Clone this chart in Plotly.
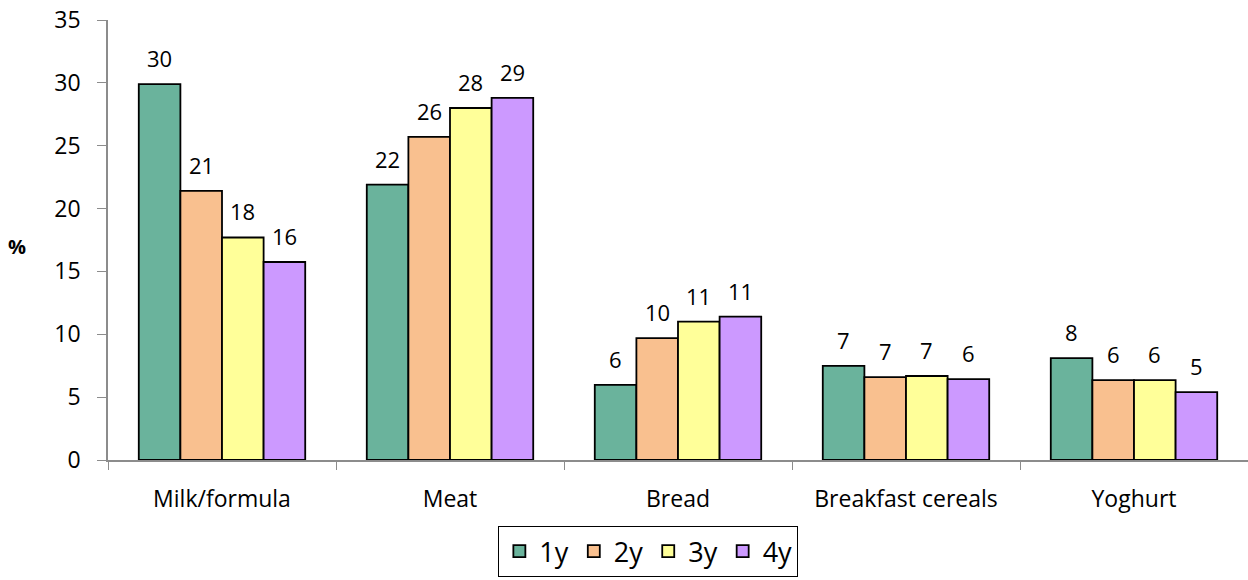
import plotly.graph_objects as go

categories = ["Milk/formula", "Meat", "Bread", "Breakfast cereals", "Yoghurt"]
series_names = ["1y", "2y", "3y", "4y"]
values_1y = [29.9, 21.9, 5.97, 7.48, 8.1]
values_2y = [21.4, 25.7, 9.7, 6.6, 6.36]
values_3y = [17.7, 28.0, 11.0, 6.68, 6.36]
values_4y = [15.75, 28.8, 11.4, 6.44, 5.4]
colors = ["#6AB39C", "#F9C08F", "#FFFF99", "#CC99FF"]

font_family = "'Open Sans', sans-serif"

W, H = 1248, 580
M_L, M_R, M_T, M_B = 108, 0, 20, 120
BARGAP = 0.27

all_series = [values_1y, values_2y, values_3y, values_4y]

fig = go.Figure()
for name, vals, col in zip(series_names, all_series, colors):
    fig.add_trace(go.Bar(
        x=categories, y=vals, name=name,
        marker=dict(color=col, line=dict(color="black", width=1.8)),
        cliponaxis=False,
    ))

# value labels above each bar, rounded to whole percent
plot_w = W - M_L - M_R
bar_w = plot_w / len(categories) * (1 - BARGAP) / len(series_names)
annotations = []
for i, vals in enumerate(all_series):
    shift = (i - (len(series_names) - 1) / 2) * bar_w
    for cat, v in zip(categories, vals):
        annotations.append(dict(
            x=cat, y=v, text=f"{v:.0f}", xshift=shift, yshift=9,
            xanchor="center", yanchor="bottom", showarrow=False,
            font=dict(size=22, color="black", family=font_family),
        ))

annotations.append(dict(
    text="<b>%</b>", xref="paper", yref="paper",
    x=(17 - M_L) / plot_w, y=(460 - 246) / (H - M_T - M_B),
    xanchor="center", yanchor="middle", showarrow=False,
    font=dict(size=20, family=font_family, color="black"),
))

fig.update_layout(
    width=W, height=H,
    margin=dict(l=M_L, r=M_R, t=M_T, b=M_B),
    paper_bgcolor="white", plot_bgcolor="white",
    barmode="group", bargap=BARGAP, bargroupgap=0,
    font=dict(family=font_family, color="black"),
    showlegend=True,
    legend=dict(
        orientation="h", x=0.474, xanchor="center", y=-0.15, yanchor="top",
        bordercolor="black", borderwidth=1,
        font=dict(size=27, family=font_family),
        itemwidth=30, traceorder="normal",
    ),
    xaxis=dict(
        showline=True, linecolor="#8C8C8C", linewidth=1.5,
        ticks="outside", tickson="boundaries", ticklen=8, tickcolor="#8C8C8C",
        tickfont=dict(size=23, family=font_family),
        ticklabelstandoff=18,
    ),
    yaxis=dict(
        range=[0, 35], dtick=5,
        showline=True, linecolor="#8C8C8C", linewidth=1.5,
        ticks="outside", ticklen=9, tickcolor="#8C8C8C",
        showgrid=False, zeroline=False,
        tickfont=dict(size=23, family=font_family),
        ticklabelstandoff=12,
    ),
    annotations=annotations,
)

fig.write_html("out.html")
